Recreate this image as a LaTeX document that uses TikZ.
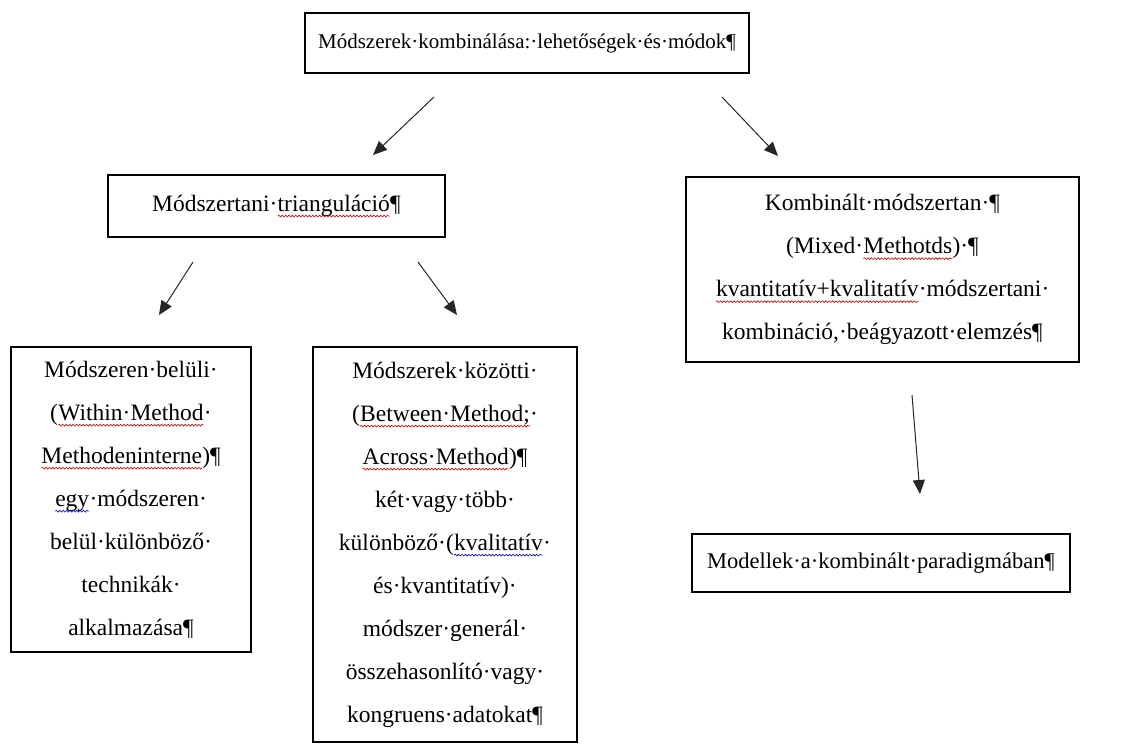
\documentclass[tikz,border=0pt]{standalone}
\usepackage{fontspec}
\setmainfont{Liberation Serif}
\usetikzlibrary{arrows.meta,decorations.pathmorphing}
\newcommand\wavyword[2]{\tikz[baseline=(wv.base)]{\node[shape=rectangle,draw=none,fill=none,inner sep=0pt,outer sep=0pt,minimum width=0pt,minimum height=0pt,anchor=base](wv){#2};\draw[draw=#1,line width=0.6pt,decorate,decoration={snake,amplitude=0.9pt,segment length=3.4pt}]([yshift=-5pt]wv.base west)--([yshift=-5pt]wv.base east);}}
\newcommand\wvr[1]{\wavyword{red!75!black}{#1}}
\newcommand\wvb[1]{\wavyword{blue!70!black}{#1}}
\begin{document}
\begin{tikzpicture}[x=1pt,y=-1pt,
  box/.style={draw,line width=2pt,inner sep=0pt,align=center,font=\fontsize{23.5}{43}\selectfont},
  arr/.style={line width=1pt,draw=black!85,-{Triangle[length=14pt,width=12pt]}}]
\useasboundingbox (0,0) rectangle (1121,744);
\node[box,font=\fontsize{21}{43}\selectfont,minimum width=444pt,minimum height=60pt] (top) at (527,43) {Módszerek·kombinálása:·lehetőségek·és·módok¶};
\node[box,minimum width=337pt,minimum height=62pt] (tri) at (276.5,206) {Módszertani·\wvr{trianguláció}¶};
\node[box,minimum width=393pt,minimum height=185pt] (komb) at (882.5,269.5) {Kombinált·módszertan·¶\\(Mixed·\wvr{Methotds})·¶\\\wvr{kvantitatív+kvalitatív}·módszertani·\\kombináció,·beágyazott·elemzés¶};
\node[box,minimum width=240pt,minimum height=305pt] (left) at (131,499.5) {Módszeren·belüli·\\(\wvr{Within·Method}·\\\wvr{Methodeninterne})¶\\\wvb{egy}·módszeren·\\belül·különböző·\\technikák·\\alkalmazása¶};
\node[box,minimum width=264pt,minimum height=395pt] (mid) at (445,544.5) {Módszerek·közötti·\\(\wvr{Between·Method;}·\\\wvr{Across·Method})¶\\két·vagy·több·\\különböző·(\wvb{kvalitatív}·\\és·kvantitatív)·\\módszer·generál·\\összehasonlító·vagy·\\kongruens·adatokat¶};
\node[box,font=\fontsize{22.5}{43}\selectfont,minimum width=378pt,minimum height=58pt] (model) at (881,563) {Modellek·a·kombinált·paradigmában¶};
\coordinate (a1s) at (434,97);
\coordinate (a1e) at (373,155);
\coordinate (a2s) at (722,97);
\coordinate (a2e) at (778,156);
\coordinate (a3s) at (193,262);
\coordinate (a3e) at (159,315);
\coordinate (a4s) at (418,262);
\coordinate (a4e) at (457,315);
\coordinate (a5s) at (912,395);
\coordinate (a5e) at (920,494);
\draw[arr] (a1s) -- (a1e);
\draw[arr] (a2s) -- (a2e);
\draw[arr] (a3s) -- (a3e);
\draw[arr] (a4s) -- (a4e);
\draw[arr] (a5s) -- (a5e);
\end{tikzpicture}
\end{document}
